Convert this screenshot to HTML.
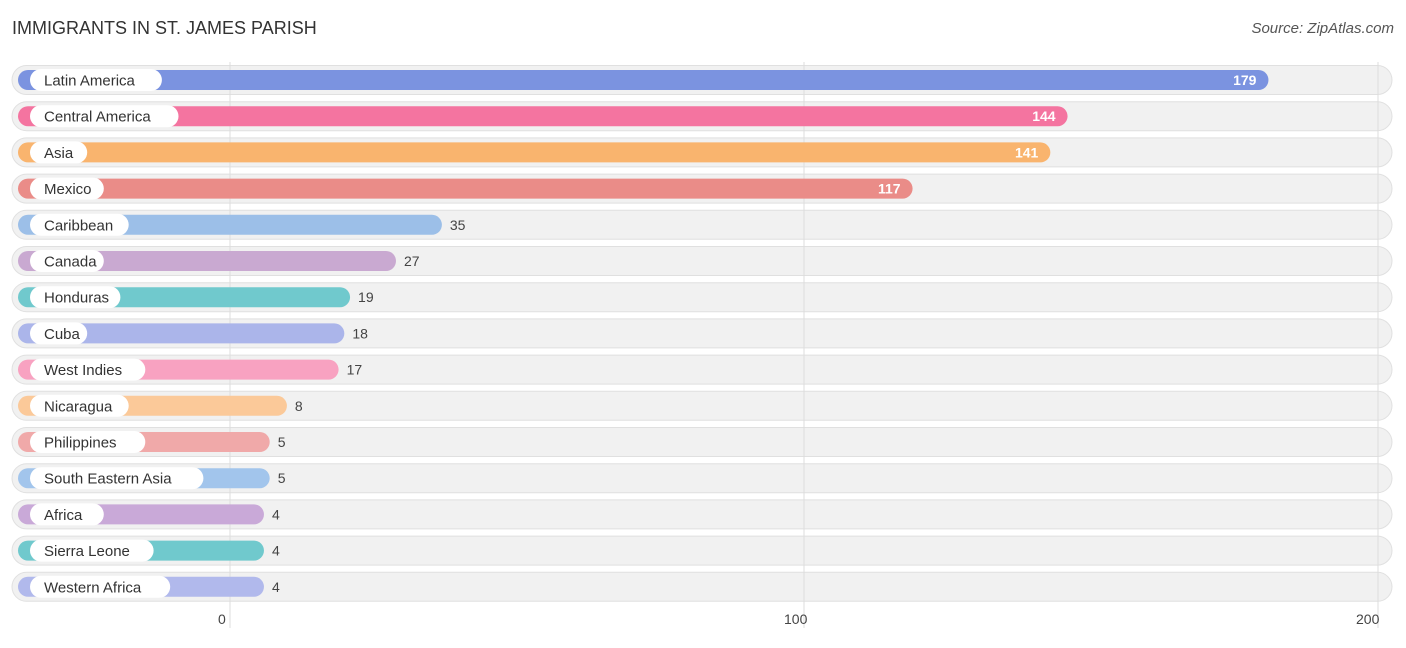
<!DOCTYPE html>
<html><head><meta charset="utf-8"><style>
body{margin:0;background:#fff;font-family:"Liberation Sans",sans-serif}
#c{position:relative;width:1406px;height:643px}
</style></head><body>
<div id="c">
<svg id="s" width="1406" height="643" xmlns="http://www.w3.org/2000/svg">
<text x="12" y="34" font-size="18" fill="#333">IMMIGRANTS IN ST. JAMES PARISH</text>
<text x="1394" y="33" font-size="15" fill="#555" text-anchor="end" font-style="italic">Source: ZipAtlas.com</text>
</svg>
</div>
<script>
const categories=["Latin America","Central America","Asia","Mexico","Caribbean","Canada","Honduras","Cuba","West Indies","Nicaragua","Philippines","South Eastern Asia","Africa","Sierra Leone","Western Africa"];
const values=[179,144,141,117,35,27,19,18,17,8,5,5,4,4,4];
const colors=["#7b93e0","#f474a0","#f9b46e","#ea8c88","#9cbfe8","#c9a9d1","#70c9cd","#abb5ea","#f8a2c1","#fbc999","#f0a9a9","#a2c5ec","#c9a9d8","#70c9cd","#b1b9ec"];
const ticks=[0,100,200];
const svg=document.getElementById('s');const NS="http://www.w3.org/2000/svg";
const x0=230,ppu=5.74;
const xs=v=>x0+v*ppu;
const rowY=i=>80+i*36.2;
function mk(t,a){const e=document.createElementNS(NS,t);for(const k in a)e.setAttribute(k,a[k]);svg.appendChild(e);return e;}
categories.forEach((c,i)=>{
 const y=rowY(i);
 const bg=mk('rect',{x:12,y:y-14.5,width:1380,height:29,rx:14.5,fill:'#f1f1f1',stroke:'#e0e0e0'});
 
});
ticks.forEach(t=>{
 const l=mk('line',{x1:xs(t),x2:xs(t),y1:62,y2:628,stroke:'#ddd'});
 
 const tx=mk('text',{x:xs(t)-(t==0?12:t==100?20:22),y:624,'font-size':14,fill:'#444'});tx.textContent=t;
 
});
categories.forEach((c,i)=>{
 const y=rowY(i),v=values[i],end=xs(v)+11;
 const b=mk('rect',{x:18,y:y-10,width:end-18,height:20,rx:10,fill:colors[i]});
 
 const w=c.length*8.3+24;
 const p=mk('rect',{x:30,y:y-11,width:w,height:22,rx:11,fill:'#fff'});
 
 const t=mk('text',{x:44,y:y+5.5,'font-size':15,fill:'#333'});t.textContent=c;
 
 const inside=v>100;
 const vt=mk('text',{x:inside?end-12:end+8,y:y+5,'font-size':14,fill:inside?'#fff':'#444','text-anchor':inside?'end':'start','font-weight':inside?'bold':'normal'});
 vt.textContent=v;
 
});
</script>
</body></html>
